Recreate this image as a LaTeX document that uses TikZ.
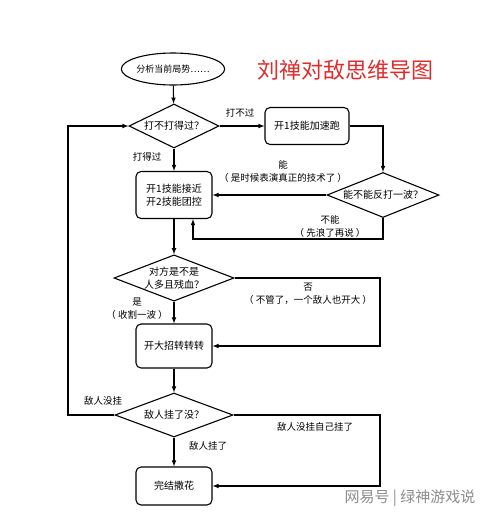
\documentclass[tikz,border=0pt]{standalone}
\usepackage{fontspec}
\setmainfont{Noto Sans CJK SC}
\usetikzlibrary{arrows}
\usetikzlibrary{shapes.geometric}
\definecolor{titlered}{RGB}{222,44,44}

\begin{document}
\begin{tikzpicture}[x=1pt,y=-1pt,>=latex,line width=1.1pt]
% --- styles ---------------------------------------------------
\tikzstyle{startnode}=[draw,ellipse,inner sep=0pt,minimum width=91pt,minimum height=32pt,font=\fontsize{9}{11}\selectfont]
\tikzstyle{stepbox}  =[draw,rounded corners=5pt,inner sep=0pt,align=center,minimum width=76pt,font=\fontsize{10}{13}\selectfont]
\tikzstyle{choice}   =[draw,diamond,aspect=2.5,inner sep=0pt,align=center,font=\fontsize{10}{13}\selectfont]
\tikzstyle{lbl}      =[align=center,inner sep=0pt,font=\fontsize{9.5}{13}\selectfont]
\tikzstyle{flow}     =[->]

\useasboundingbox (0,0) rectangle (500,517);

% --- title ----------------------------------------------------
\node[text=titlered,font=\fontsize{22}{24}\selectfont] (title) at (345,70) {刘禅对敌思维导图};

% --- main column ----------------------------------------------
\node[startnode] (start) at (173,69) {分析当前局势……};
\node[choice,minimum width=90pt,minimum height=44pt] (fight) at (174,126) {打不打得过？};
\node[stepbox,minimum width=84pt,minimum height=37pt] (run) at (307,126) {开1技能加速跑};
\node[choice,minimum width=112pt,minimum height=45pt] (counter) at (383,195) {能不能反打一波？};
\node[stepbox,minimum height=47pt] (engage) at (174,195) {开1技能接近\\开2技能团控};
\node[choice,minimum width=120pt,minimum height=46pt] (lowhp) at (174,278) {对方是不是\\人多且残血？};
\node[stepbox,minimum height=44pt] (ult) at (174,346) {开大招转转转};
\node[choice,minimum width=118pt,minimum height=44pt] (dead) at (174,415) {敌人挂了没？};
\node[stepbox,minimum height=38pt] (done) at (174,486) {完结撒花};

% --- turning points -------------------------------------------
\coordinate (back)  at (193,239);   % under the counter diamond
\coordinate (rhp)   at (380,346);   % right of the ult box
\coordinate (rdone) at (380,486);   % right of the end box
\coordinate (lloop) at (68,126);    % left loop back to the top

% --- connectors -----------------------------------------------
\draw[flow] (start) -- (fight);
\draw[flow] (fight) -- (run);
\draw[flow] (run.east) -| (counter.north);
\draw[flow] (fight) -- (engage);
\draw[flow] (counter) -- (engage);
\draw[flow] (counter.south) |- (back) -- (back |- engage.south);
\draw[flow] (engage) -- (lowhp);
\draw[flow] (lowhp) -- (ult);
\draw[flow] (lowhp.east) -| (rhp) -- (ult.east);
\draw[flow] (ult) -- (dead);
\draw[flow] (dead) -- (done);
\draw[flow] (dead.east) -| (rdone) -- (done.east);
\draw[flow] (dead.west) -| (lloop) -- (fight.west);

% --- edge labels ----------------------------------------------
\node[lbl] (lose)    at (240,113) {打不过};
\node[lbl] (win)     at (147,157) {打得过};
\node[lbl] (yescnt)  at (283,171.5) {能\\（ 是时候表演真正的技术了 ）};
\node[lbl] (nocnt)   at (330,226) {不能\\（ 先浪了再说 ）};
\node[lbl] (nohp)    at (308,293.5) {否\\（ 不管了，一个敌人也开大 ）};
\node[lbl] (yeshp)   at (137,309) {是\\（ 收割一波 ）};
\node[lbl] (alive)   at (103,401) {敌人没挂};
\node[lbl] (selfko)  at (315,427) {敌人没挂自己挂了};
\node[lbl] (killed)  at (208,446) {敌人挂了};

% --- watermark ------------------------------------------------
\node[text=black!45,font=\fontsize{15}{17}\selectfont] (mark) at (410,498) {网易号 | 绿神游戏说};
\end{tikzpicture}
\end{document}
